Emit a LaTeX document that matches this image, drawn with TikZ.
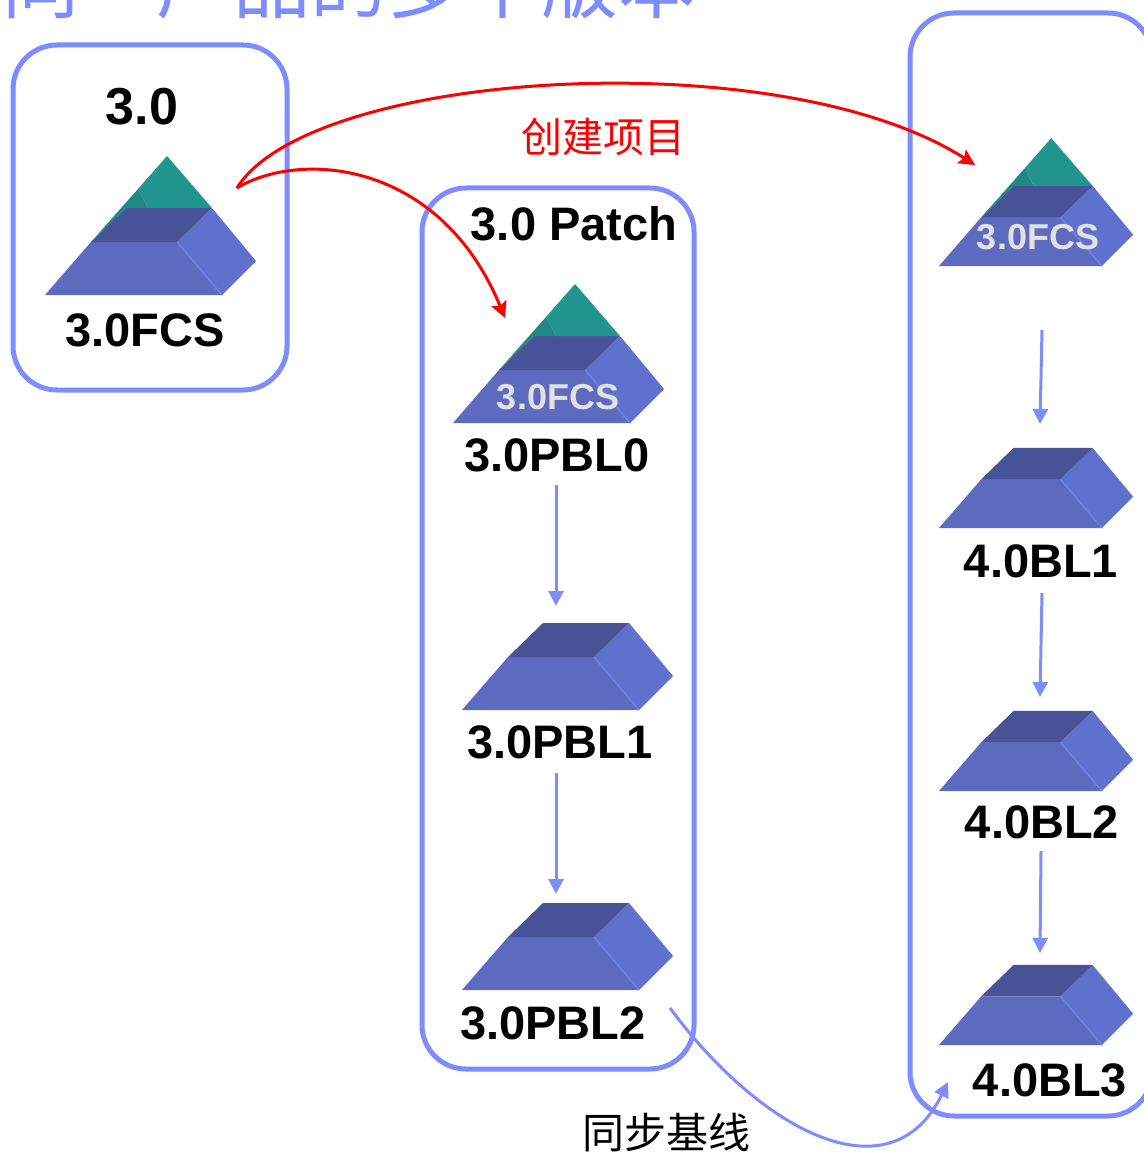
\documentclass[tikz,border=0pt]{standalone}
\usepackage{fontspec}
\setmainfont{Liberation Sans}
\newfontfamily\cjk{Noto Sans CJK SC}
\usepackage{tikz}
\usetikzlibrary{arrows.meta,positioning}

\definecolor{rahmenblau}{RGB}{125,140,255}
\definecolor{vorne}{RGB}{92,106,192}
\definecolor{seite}{RGB}{96,113,205}
\definecolor{kante}{RGB}{110,128,225}
\definecolor{oben}{RGB}{72,82,150}
\definecolor{tuerkis}{RGB}{35,149,143}
\definecolor{tuerkisdunkel}{RGB}{31,136,131}
\definecolor{hellgrau}{RGB}{225,225,225}

%Seitenflaechen eines Blocks
\newcommand{\blockflaechen}{%
    \fill[vorne] (0,0) -- (177,0) -- (132,-53) -- (46,-53) -- cycle;
    \fill[seite] (132,-53) -- (177,0) -- (211,-34) -- (167,-87) -- cycle;
    \fill[oben] (46,-53) -- (81,-87) -- (167,-87) -- (132,-53) -- cycle;
    \draw[kante, line width=0.8pt] (132,-53) -- (177,0);
}

\tikzset{
  rahmen/.style={draw=rahmenblau, line width=2.5pt, rounded corners=22pt},
  version/.style={font=\bfseries\fontsize{23.5}{28}\selectfont, inner sep=0pt},
  innen/.style={font=\bfseries\fontsize{18}{22}\selectfont, text=hellgrau, inner sep=0pt},
  pfeil/.style={draw=rahmenblau, line width=1.5pt, -{Triangle[length=7.5pt,width=7.5pt]}},
  rotpfeil/.style={draw=red, line width=1.5pt, -{Stealth[length=8pt,width=8pt,inset=1.5pt]}},
  pics/block/.style={code={\blockflaechen}},
  pics/pyramide/.style={code={
    \blockflaechen
    \fill[tuerkis] (122,-139) -- (167,-87) -- (103,-87) -- (93,-106) -- cycle;
    \fill[tuerkisdunkel] (93,-106) -- (103,-87) -- (81,-87) -- (46,-53) -- cycle;
  }},
}

\begin{document}
\begin{tikzpicture}[x=0.5pt,y=-0.5pt]
\useasboundingbox (0,0) rectangle (1144,1155);
%Titel oben, wird vom Rand abgeschnitten
\node[font=\cjk\fontsize{38.5}{40}\selectfont, text=rahmenblau, anchor=base, inner sep=0pt] (titel) at (349,13) {同一产品的多个版本};
%Rahmen
\draw[rahmen] (13,45) rectangle (287,390);
\draw[rahmen] (422,188) rectangle (694,1069);
\draw[rahmen] (910,13) rectangle (1152,1116);
%Pyramiden und Bloecke
\pic at (45,295) {pyramide};
\pic at (453,423) {pyramide};
\pic at (462,710) {block};
\pic at (462,990) {block};
\pic[scale=0.92] at (939,266) {pyramide};
\foreach \y in {528,791,1045}{
  \pic[scale=0.92] at (939,\y) {block};
}
%Beschriftungen
\node[version, font=\bfseries\fontsize{26}{30}\selectfont] (v30) at (142,107) {3.0};
\node[version] (fcs) at (145,330) {3.0FCS};
\node[version] (patch) at (574,224) {3.0 Patch};
\node[innen] (fcsA) at (558,397) {3.0FCS};
\node[version] (pbl0) at (557,455) {3.0PBL0};
\node[version] (pbl1) at (560,742) {3.0PBL1};
\node[version] (pbl2) at (553,1023) {3.0PBL2};
\node[innen] (fcsB) at (1038,237) {3.0FCS};
\node[version] (bl1) at (1041,561) {4.0BL1};
\node[version] (bl2) at (1042,822) {4.0BL2};
\node[version] (bl3) at (1050,1080) {4.0BL3};
\node[font=\cjk\fontsize{20.5}{24}\selectfont, text=red, inner sep=0pt] (erstellen) at (603,137) {创建项目};
\node[font=\cjk\fontsize{21}{24}\selectfont, inner sep=0pt] (sync) at (666,1133) {同步基线};
%Pfeile in den Spalten
\coordinate (a0) at (556,485); \coordinate (a1) at (556,606);
\coordinate (a2) at (556,773); \coordinate (a3) at (556,894);
\coordinate (b0) at (1042,330); \coordinate (b1) at (1040,424);
\coordinate (b2) at (1042,593); \coordinate (b3) at (1040,697);
\coordinate (b4) at (1041,851); \coordinate (b5) at (1040,953);
\foreach \s/\e in {a0/a1,a2/a3,b0/b1,b2/b3,b4/b5}{
  \draw[pfeil] (\s) -- (\e);
}
%Projekt erstellen
\coordinate (start) at (237,188);
\coordinate (ziel1) at (505,318);
\coordinate (ziel2) at (975,165);
\draw[rotpfeil] (start) .. controls (300,150) and (440,160) .. (ziel1);
\draw[rotpfeil] (start) .. controls (310,70) and (780,40) .. (ziel2);
%Basislinie synchronisieren
\coordinate (syncA) at (670,1008);
\coordinate (syncB) at (948,1082);
\draw[pfeil] (syncA) .. controls (760,1130) and (890,1200) .. (syncB);
\end{tikzpicture}
\end{document}
